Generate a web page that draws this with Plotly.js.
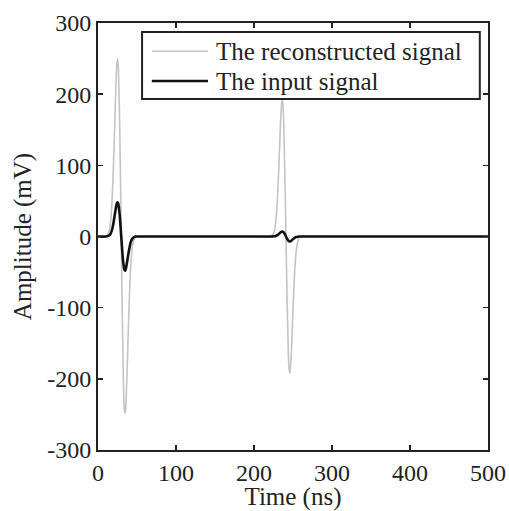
<!DOCTYPE html>
<html>
<head>
<meta charset="utf-8">
<script src="https://cdn.plot.ly/plotly-3.0.1.min.js"></script>
<style>html,body{margin:0;padding:0;background:#fff;}#chart{width:509px;height:511px;}</style>
</head>
<body>
<div id="chart"></div>
<script>
// Time samples (ns) and amplitudes (mV)
const timeRecon = [0, 10, 14, 16, 18, 20, 22, 24, 25, 26, 28, 29.8, 30, 32, 34, 35, 36, 38, 40, 42, 44, 46, 48, 52, 100, 200, 222,
  226, 228, 230, 232, 234, 235, 236, 237, 238, 240, 241, 242, 244, 245, 246, 247, 248, 250, 252, 254, 256, 258, 262, 300, 400, 500];
const reconValues = [0, 0, 6, 19, 49, 105, 179, 240, 250, 239, 144, 0, -17, -170, -246, -248, -231, -164, -92, -41, -15, -5, -1, 0, 0, 0, 0,
  7.5, 22, 52, 102, 159, 181, 192, 186, 163, 64, 0, -64, -163, -186, -192, -181, -159, -102, -52, -22, -7.5, -2, 0, 0, 0, 0];

const timeInput = [0, 10, 14, 16, 18, 20, 22, 24, 25, 26, 28, 29.8, 30, 32, 34, 35, 36, 38, 40, 42, 44, 46, 48, 52, 100, 200, 222,
  226, 228, 230, 232, 234, 235, 236, 237, 238, 240, 241, 242, 244, 245, 246, 247, 248, 250, 252, 254, 256, 258, 262, 300, 400, 500];
const inputValues = [0, 0, 1.2, 3.6, 9.5, 20, 34, 46, 48, 46, 28, 0, -3, -33, -47, -48, -44, -31, -18, -8, -3, -1, 0, 0, 0, 0, 0,
  0.3, 0.8, 1.9, 3.7, 5.8, 6.6, 7, 6.8, 5.9, 2.4, 0, -2.4, -5.9, -6.8, -7, -6.6, -5.8, -3.7, -1.9, -0.8, -0.3, 0, 0, 0, 0, 0];

const xTicks = [0, 100, 200, 300, 400, 500];
const yTicks = [-300, -200, -100, 0, 100, 200, 300];
const seriesNames = ['The reconstructed signal', 'The input signal'];
const seriesColors = ['#c4c4c4', '#111111'];
const seriesWidths = [1.6, 2.6];

const fam = '"Liberation Serif", "Times New Roman", serif';
const tickFont = {family: fam, color: '#222', size: 24};
const titleFont = {family: fam, color: '#222', size: 25};

const traces = [
  {x: timeRecon, y: reconValues, type: 'scatter', mode: 'lines', name: seriesNames[0],
   line: {color: seriesColors[0], width: seriesWidths[0], shape: 'spline', smoothing: 0.6}},
  {x: timeInput, y: inputValues, type: 'scatter', mode: 'lines', name: seriesNames[1],
   line: {color: seriesColors[1], width: seriesWidths[1], shape: 'spline', smoothing: 0.6}}
];

const axisCommon = {
  showgrid: false, zeroline: false, showline: true, linecolor: '#222', linewidth: 2,
  mirror: 'ticks', ticks: 'inside', ticklen: 5, tickwidth: 1.5, tickcolor: '#222',
  tickfont: tickFont
};

// Legend box drawn in paper coordinates
const legX0 = 0.113, legX1 = 0.979, legY0 = 0.822, legY1 = 0.979;
const legRows = [0.934, 0.864];
const shapes = [{type: 'rect', xref: 'paper', yref: 'paper', x0: legX0, x1: legX1, y0: legY0, y1: legY1,
  line: {color: '#222', width: 2}, fillcolor: '#fff', layer: 'above'}];
const annotations = [];
legRows.forEach((yy, i) => {
  shapes.push({type: 'line', xref: 'paper', yref: 'paper', x0: 0.138, x1: 0.282, y0: yy, y1: yy,
    line: {color: seriesColors[i], width: seriesWidths[i]}, layer: 'above'});
  annotations.push({xref: 'paper', yref: 'paper', x: 0.298, y: yy, xanchor: 'left', yanchor: 'middle',
    text: seriesNames[i], showarrow: false, font: titleFont});
});

const layout = {
  width: 509, height: 511,
  margin: {l: 98, r: 21, t: 23, b: 61},
  paper_bgcolor: '#fff', plot_bgcolor: '#fff',
  font: tickFont,
  showlegend: false,
  shapes: shapes,
  annotations: annotations,
  xaxis: Object.assign({}, axisCommon, {range: [0, 500], tickvals: xTicks, ticktext: xTicks.map(String),
    title: {text: 'Time (ns)', font: titleFont, standoff: 0}}),
  yaxis: Object.assign({}, axisCommon, {range: [-300, 300], tickvals: yTicks, ticktext: yTicks.map(String),
    title: {text: 'Amplitude (mV)', font: titleFont, standoff: 8}})
};

Plotly.newPlot('chart', traces, layout, {displayModeBar: false, staticPlot: true});
</script>
</body>
</html>
